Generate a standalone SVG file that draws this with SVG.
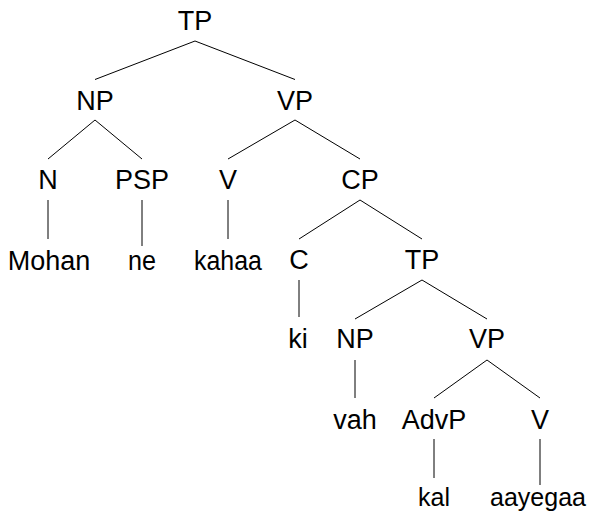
<svg xmlns="http://www.w3.org/2000/svg" width="589" height="514" viewBox="0 0 589 514">
<style>
text{font-family:"Liberation Sans",Arial,sans-serif;font-size:27px;fill:#000;text-anchor:middle}
.b{font-size:25px}
.e{stroke:#000;stroke-width:1;fill:none}
</style>
<rect width="589" height="514" fill="#fff"/>
<g id="connectors" class="e">
<line x1="195" y1="41" x2="95" y2="79.5"/>
<line x1="195" y1="41" x2="295" y2="79.5"/>
<line x1="95" y1="120" x2="48" y2="159"/>
<line x1="95" y1="120" x2="142" y2="159"/>
<line x1="295" y1="120" x2="228" y2="159"/>
<line x1="295" y1="120" x2="360" y2="159"/>
<line x1="48" y1="200" x2="48" y2="239"/>
<line x1="142" y1="200" x2="142" y2="246"/>
<line x1="228" y1="200" x2="228" y2="239"/>
<line x1="360" y1="200" x2="299" y2="239"/>
<line x1="360" y1="200" x2="422" y2="239"/>
<line x1="299" y1="280" x2="299" y2="317"/>
<line x1="422" y1="280" x2="355" y2="319"/>
<line x1="422" y1="280" x2="487" y2="319"/>
<line x1="355" y1="360" x2="355" y2="398"/>
<line x1="487" y1="360" x2="434" y2="398"/>
<line x1="487" y1="360" x2="540" y2="398"/>
<line x1="434" y1="439" x2="434" y2="478"/>
<line x1="540" y1="439" x2="540" y2="485"/>
</g>
<g id="n-TP"><text x="195" y="30">TP</text></g>
<g id="n-NP"><text x="95" y="110">NP</text></g>
<g id="n-VP"><text x="295" y="110">VP</text></g>
<g id="n-N"><text x="48" y="189">N</text></g>
<g id="n-PSP"><text x="142" y="189">PSP</text></g>
<g id="n-V"><text x="228" y="189">V</text></g>
<g id="n-CP"><text x="360" y="189">CP</text></g>
<g id="n-Mohan"><text x="49" y="270">Mohan</text></g>
<g id="n-ne"><text x="142" y="270" textLength="28" lengthAdjust="spacingAndGlyphs">ne</text></g>
<g id="n-kahaa"><text x="228" y="270" textLength="68" lengthAdjust="spacingAndGlyphs">kahaa</text></g>
<g id="n-C"><text x="299" y="269">C</text></g>
<g id="n-TP2"><text x="422" y="269">TP</text></g>
<g id="n-ki"><text x="298" y="348">ki</text></g>
<g id="n-NP2"><text x="355" y="348">NP</text></g>
<g id="n-VP2"><text x="487" y="348">VP</text></g>
<g id="n-vah"><text x="355" y="429">vah</text></g>
<g id="n-AdvP"><text x="434" y="429">AdvP</text></g>
<g id="n-V2"><text x="540" y="429">V</text></g>
<g id="n-kal"><text class="b" x="434" y="506">kal</text></g>
<g id="n-aayegaa"><text class="b" x="538" y="506">aayegaa</text></g>
</svg>
